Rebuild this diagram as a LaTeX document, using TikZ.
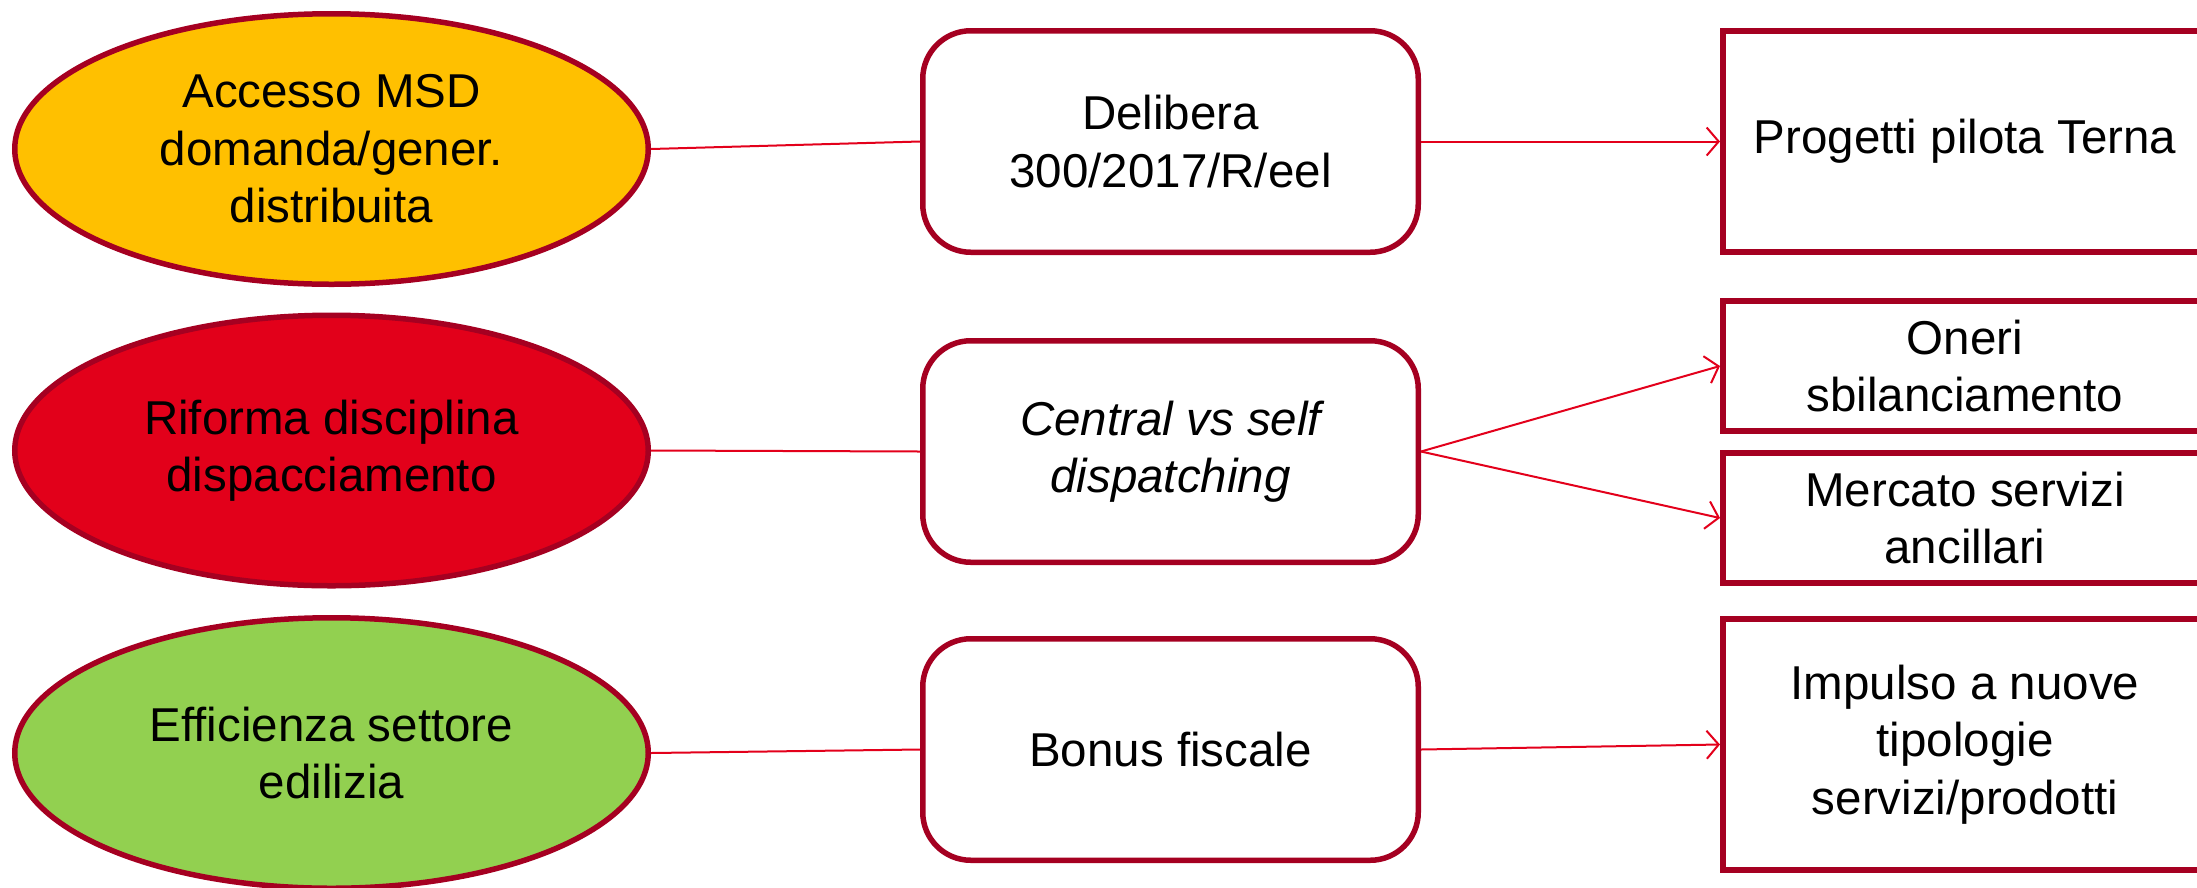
\documentclass[tikz,border=0pt]{standalone}
\usepackage{fontspec}
\setmainfont{Liberation Sans}
\usetikzlibrary{shapes.geometric,arrows.meta}

\definecolor{edgered}{HTML}{A50021}
\definecolor{linkred}{HTML}{E3001B}
\definecolor{ovalyellow}{HTML}{FFC000}
\definecolor{ovalred}{HTML}{E2001A}
\definecolor{ovalgreen}{HTML}{92D050}

\newcommand\labelfont{\fontsize{47.5}{57.5}\selectfont}

\begin{document}
\begin{tikzpicture}[x=1pt,y=-1pt,
  every node/.style={font=\labelfont, text=black},
  oval/.style={ellipse, draw=edgered, line width=5.5pt, inner sep=0pt,
    minimum width=633.5pt, minimum height=270.5pt, align=center},
  roundbox/.style={rectangle, rounded corners=48pt, draw=edgered,
    line width=5.5pt, fill=white, minimum width=495.5pt, minimum height=221.5pt,
    align=center},
  sqbox/.style={rectangle, draw=edgered, line width=6pt, fill=white,
    minimum width=484pt, align=center},
  link/.style={draw=linkred, line width=2pt},
  arrowlink/.style={link, -{Straight Barb[length=12pt,width=28pt,line width=2pt]}}]

\useasboundingbox (0,0) rectangle (2197,887);
\clip (0,0) rectangle (2197,887);

% causes
\node[oval, fill=ovalyellow] (e1) at (331.5,149) {Accesso MSD\\domanda/gener.\\distribuita};
\node[oval, fill=ovalred]    (e2) at (331.5,450.5) {Riforma disciplina\\dispacciamento};
\node[oval, fill=ovalgreen]  (e3) at (331.5,753) {Efficienza settore\\edilizia};

% measures
\node[roundbox] (b1) at (1170.5,141.5) {Delibera\\300/2017/R/eel};
\node[roundbox] (b2) at (1170.5,451.5) {\itshape Central vs self\\\itshape dispatching};
\node[roundbox] (b3) at (1170.5,749.5) {Bonus fiscale};

% effects
\node[sqbox, minimum height=221pt] (r1) at (1965,141.5) {Progetti pilota Terna};
\node[sqbox, minimum height=130pt] (r2) at (1965,366) {Oneri\\sbilanciamento};
\node[sqbox, minimum height=130pt] (r3) at (1965,518) {Mercato servizi\\ancillari};
\node[sqbox, minimum height=251pt] (r4) at (1965,744.5) {Impulso a nuove\\tipologie\\servizi/prodotti};

% connectors
\path[link] (e1.east) -- (b1.west);
\path[link] (e2.east) -- (b2.west);
\path[link] (e3.east) -- (b3.west);

\path[arrowlink] (b1.east) -- (r1.west);
\path[arrowlink] (b2.east) -- (r2.west);
\path[arrowlink] (b2.east) -- (r3.west);
\path[arrowlink] (b3.east) -- (r4.west);
\end{tikzpicture}
\end{document}
